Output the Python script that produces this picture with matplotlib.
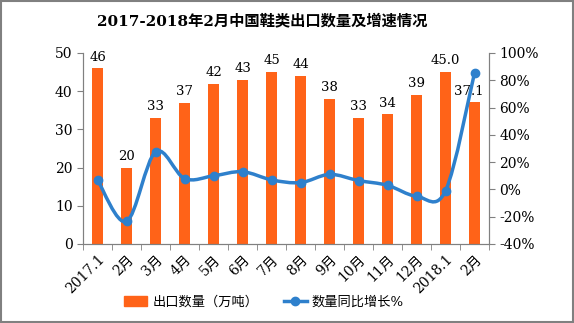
import matplotlib.pyplot as plt
from matplotlib.path import Path
from matplotlib.patches import PathPatch, Rectangle
from matplotlib.lines import Line2D

plt.rcParams['font.family'] = ['DejaVu Serif', 'Noto Sans CJK SC']

# data
months = ['2017.1', '2月', '3月', '4月', '5月', '6月', '7月', '8月',
          '9月', '10月', '11月', '12月', '2018.1', '2月']
volume = [46, 20, 33, 37, 42, 43, 45, 44, 38, 33, 34, 39, 45.0, 37.1]
volume_labels = ['46', '20', '33', '37', '42', '43', '45', '44',
                 '38', '33', '34', '39', '45.0', '37.1']
growth = [7, -23.5, 27.5, 8, 10, 13, 7, 5, 11, 6.5, 3, -5, -1, 85.5]

bar_color = '#FF6318'
line_color = '#2E80CC'

fig = plt.figure(figsize=(5.74, 3.23), dpi=100)
ax = fig.add_axes([0.1446, 0.2446, 0.7074, 0.5914])
ax2 = ax.twinx()

x = list(range(len(months)))
ax.bar(x, volume, width=0.4, color=bar_color, zorder=2)
for i, (v, s) in enumerate(zip(volume, volume_labels)):
    dx = -0.2 if i == len(months) - 1 else 0
    ax.text(i + dx, v + 1.2, s, ha='center', va='bottom', fontsize=9.5)

ax.set_xlim(-0.5, len(months) - 0.5)
ax.set_ylim(0, 50)
ax.set_yticks(range(0, 51, 10))
ax.set_xticks(x)
ax.set_xticklabels(months, rotation=45, ha='right', rotation_mode='anchor', fontsize=10)
ax.set_xticks([i + 0.5 for i in range(-1, len(months))], minor=True)
ax.tick_params(axis='x', which='major', length=0, pad=6)
ax.tick_params(axis='x', which='minor', length=4, color='#808080')
ax.tick_params(axis='y', labelsize=10, length=4, color='#808080')

# smoothed line (Catmull-Rom style bezier through the points)
verts = [(x[0], growth[0])]
codes = [Path.MOVETO]
n = len(x)
for i in range(n - 1):
    p0 = (x[max(i - 1, 0)], growth[max(i - 1, 0)])
    p1 = (x[i], growth[i])
    p2 = (x[i + 1], growth[i + 1])
    p3 = (x[min(i + 2, n - 1)], growth[min(i + 2, n - 1)])
    c1 = (p1[0] + (p2[0] - p0[0]) / 6, p1[1] + (p2[1] - p0[1]) / 6)
    c2 = (p2[0] - (p3[0] - p1[0]) / 6, p2[1] - (p3[1] - p1[1]) / 6)
    verts += [c1, c2, p2]
    codes += [Path.CURVE4] * 3
ax2.add_patch(PathPatch(Path(verts, codes), facecolor='none',
                        edgecolor=line_color, lw=2.5, zorder=3))
ax2.plot(x, growth, 'o', color=line_color, ms=6, zorder=4)
ax2.set_ylim(-40, 100)
ax2.set_yticks(range(-40, 101, 20))
ax2.set_yticklabels([f'{t}%' for t in range(-40, 101, 20)])
ax2.tick_params(axis='y', labelsize=10, length=4, color='#808080')

for a in (ax, ax2):
    a.spines['top'].set_visible(False)
    for s in ('left', 'right', 'bottom'):
        a.spines[s].set_color('#808080')

fig.text(0.456, 0.935, '2017-2018年2月中国鞋类出口数量及增速情况',
         ha='center', va='center', fontsize=11, fontweight='bold')

handles = [Rectangle((0, 0), 1, 1, color=bar_color),
           Line2D([], [], color=line_color, lw=2.5, marker='o', ms=6)]
fig.legend(handles, ['出口数量（万吨）', '数量同比增长%'], loc='center',
           bbox_to_anchor=(0.46, 0.065), ncol=2, frameon=False, fontsize=9.5,
           handlelength=1.75, handletextpad=0.4, columnspacing=1.9)

fig.add_artist(Rectangle((0.001, 0.002), 0.997, 0.995, transform=fig.transFigure,
                         fill=False, edgecolor='#808080', lw=1.5))

fig.savefig('out.png', dpi=100)
